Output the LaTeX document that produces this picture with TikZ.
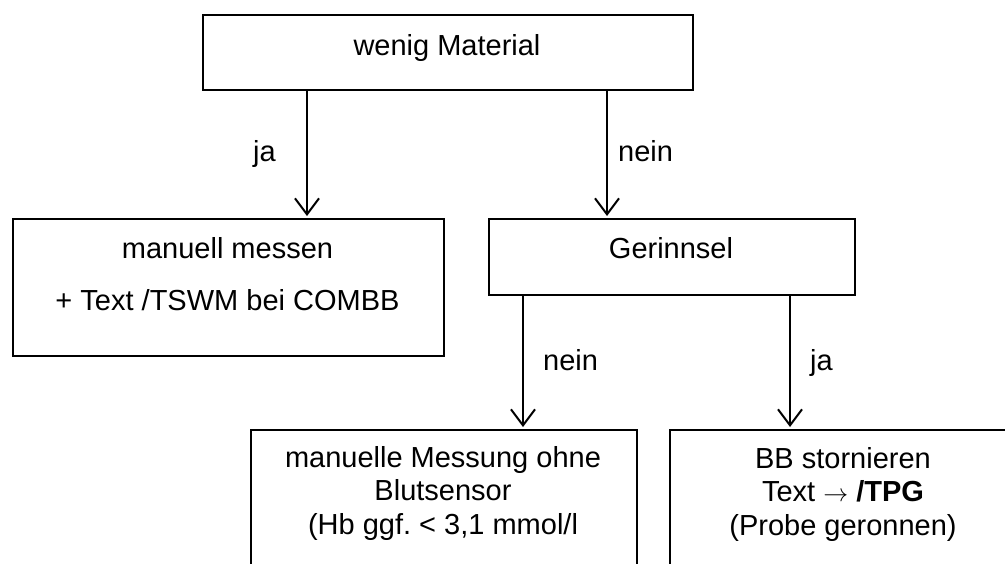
\documentclass[tikz,border=0pt]{standalone}
\usepackage{fontspec}
\setmainfont{Liberation Sans}
\usetikzlibrary{arrows.meta}
\frenchspacing
\tikzset{
  box/.style={draw=black, line width=2pt, rectangle, inner sep=0pt, anchor=north west},
  txt/.style={font=\fontsize{29}{33.5}\selectfont, inner sep=0pt, align=center, anchor=base},
  lbl/.style={font=\fontsize{29}{33.5}\selectfont, inner sep=0pt, anchor=base west},
  arr/.style={line width=2pt, -{Straight Barb[length=16pt,width=24pt,line width=2pt]}}
}
\begin{document}
\begin{tikzpicture}[x=1pt,y=-1pt]
\useasboundingbox (0,0) rectangle (1005,563);
\clip (0,0) rectangle (1005,563);
\fill[white] (0,0) rectangle (1005,563);
% boxes
\node[box, minimum width=490pt, minimum height=75pt] (top) at (202,14) {};
\node[box, minimum width=431pt, minimum height=137pt] (left) at (12,218) {};
\node[box, minimum width=366pt, minimum height=76pt] (ger) at (488,218) {};
\node[box, minimum width=386pt, minimum height=200pt] (bl) at (250,429) {};
\node[box, minimum width=348pt, minimum height=200pt] (br) at (669,429) {};
% texts (base anchor = baseline of the last line)
\node[txt] (toptxt) at (447,55) {wenig Material};
\node[txt] (lefttxt1) at (227.5,258) {manuell messen};
\node[txt] (lefttxt2) at (227.5,310) {+ Text /TSWM bei COMBB};
\node[txt] (gertxt) at (671,258) {Gerinnsel};
\node[txt] (bltxt) at (443,534) {manuelle Messung ohne\\Blutsensor\\(Hb ggf.\ < 3,1 mmol/l};
\node[txt] (brtxt) at (843,535) {BB stornieren\\Text \(\rightarrow\) \textbf{/TPG}\\(Probe geronnen)};
% arrow x positions
\coordinate (c1) at (307,0);
\coordinate (c2) at (607,0);
\coordinate (c3) at (523,0);
\coordinate (c4) at (790,0);
\draw[arr] (top.south -| c1) -- ([yshift=2pt]left.north -| c1);
\draw[arr] (top.south -| c2) -- ([yshift=2pt]ger.north -| c2);
\draw[arr] (ger.south -| c3) -- ([yshift=2pt]bl.north -| c3);
\draw[arr] (ger.south -| c4) -- ([yshift=2pt]br.north -| c4);
% labels
\node[lbl] (l1) at (253,161) {ja};
\node[lbl] (l2) at (618,161) {nein};
\node[lbl] (l3) at (543,370) {nein};
\node[lbl] (l4) at (810,370) {ja};
\end{tikzpicture}
\end{document}
